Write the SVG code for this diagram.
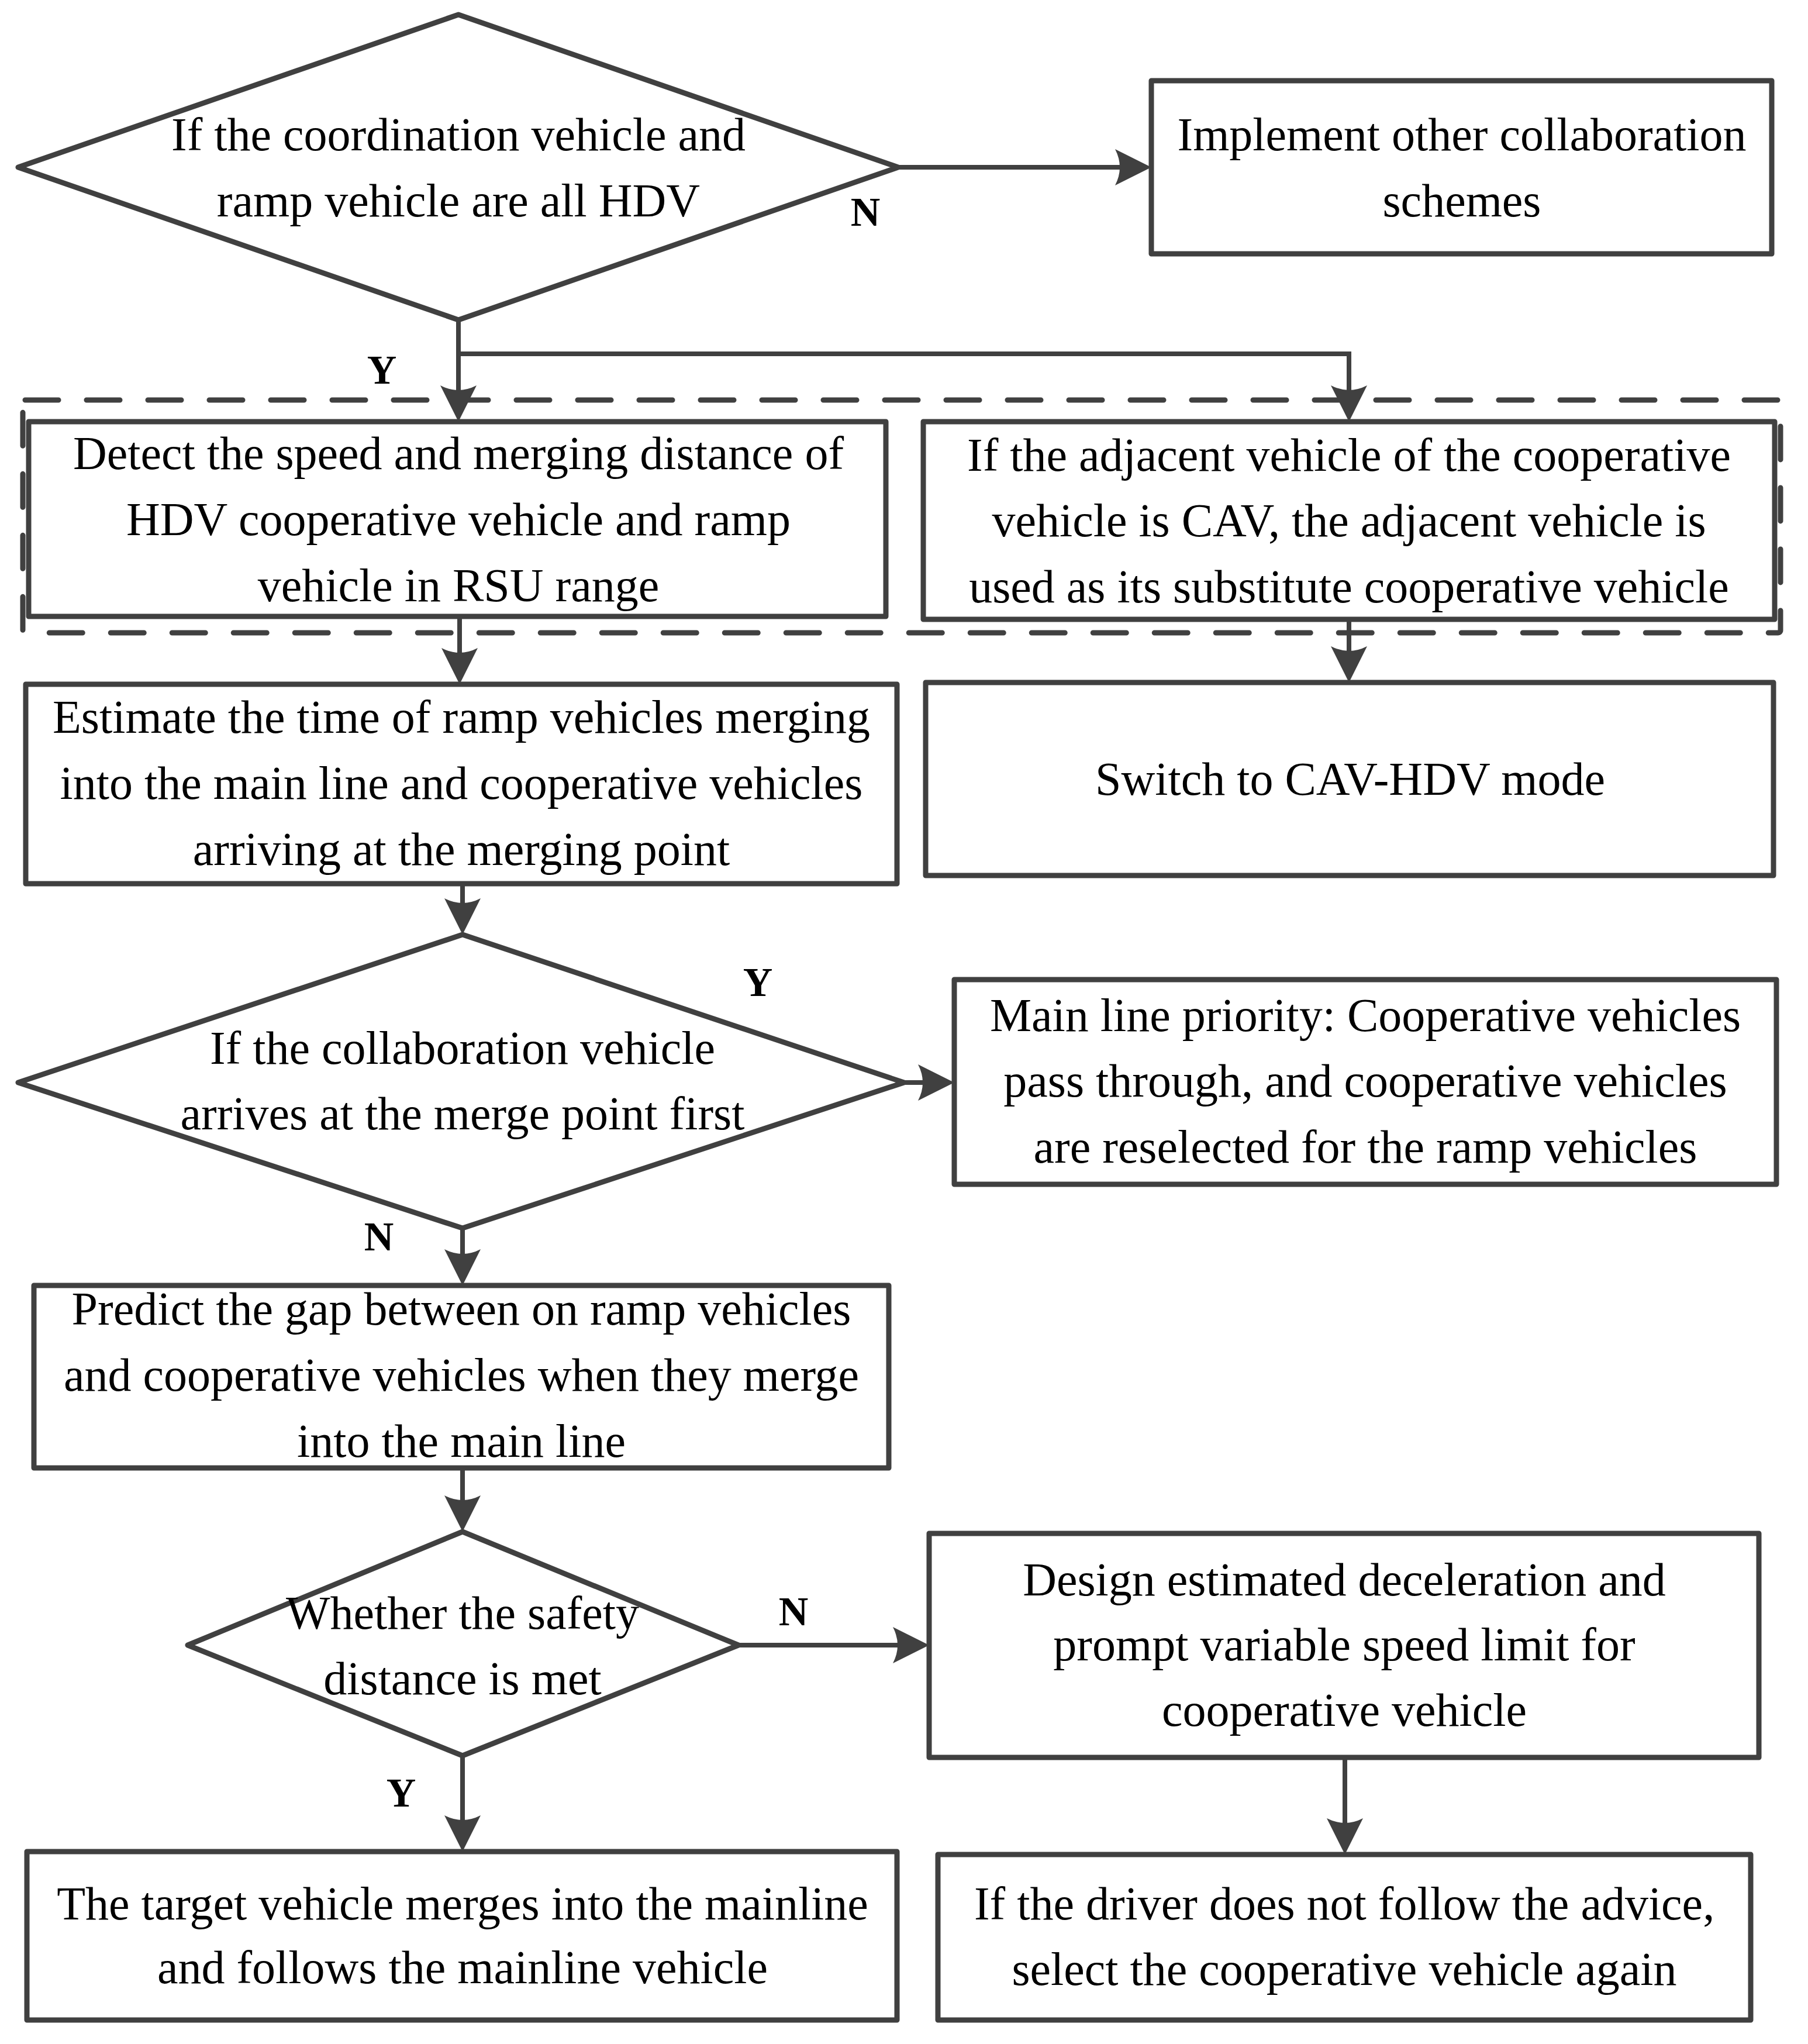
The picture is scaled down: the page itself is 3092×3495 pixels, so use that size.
<svg xmlns="http://www.w3.org/2000/svg" width="3092" height="3495" viewBox="0 0 3092 3495">
<style>
.box{fill:#fff;stroke:#404040;stroke-width:9;stroke-linejoin:round}
.dia{fill:#fff;stroke:#404040;stroke-width:9;stroke-linejoin:round}
.con{fill:none;stroke:#404040;stroke-width:8}
.dash{fill:none;stroke:#404040;stroke-width:9;stroke-dasharray:57 48;stroke-linecap:round}
.t{font-family:"Liberation Serif","Times New Roman",serif;font-size:80px;fill:#000;text-anchor:middle}
.lbl{font-family:"Liberation Serif","Times New Roman",serif;font-size:70px;font-weight:bold;fill:#000;text-anchor:middle}
</style>
<defs>
<marker id="ah" markerUnits="userSpaceOnUse" markerWidth="62" markerHeight="62" viewBox="0 0 62 62" refX="42" refY="31" orient="auto">
<path d="M0,0 L62,31 L0,62 Q16,31 0,0 Z" fill="#404040"/>
</marker>
</defs>
<rect width="3092" height="3495" fill="#fff"/>

<g id="group-dashed">
<rect class="dash" x="39" y="684" width="3006" height="398" rx="4"/>
</g>

<g id="n1">
<polygon class="dia" points="784,25 1536,286 784,547 31,286"/>
<text class="t" x="784" y="257">If the coordination vehicle and</text>
<text class="t" x="784" y="370">ramp vehicle are all HDV</text>
</g>

<g id="n2">
<rect class="box" x="1969" y="138" width="1061" height="296"/>
<text class="t" x="2500" y="257">Implement other collaboration</text>
<text class="t" x="2500" y="370">schemes</text>
</g>

<g id="n3">
<rect class="box" x="49" y="721" width="1466" height="333"/>
<text class="t" x="784" y="802">Detect the speed and merging distance of</text>
<text class="t" x="784" y="915">HDV cooperative vehicle and ramp</text>
<text class="t" x="784" y="1028">vehicle in RSU range</text>
</g>

<g id="n4">
<rect class="box" x="1579" y="721" width="1456" height="338"/>
<text class="t" x="2307" y="805">If the adjacent vehicle of the cooperative</text>
<text class="t" x="2307" y="917">vehicle is CAV, the adjacent vehicle is</text>
<text class="t" x="2307" y="1030">used as its substitute cooperative vehicle</text>
</g>

<g id="n5">
<rect class="box" x="44" y="1170" width="1490" height="341"/>
<text class="t" x="789" y="1253">Estimate the time of ramp vehicles merging</text>
<text class="t" x="789" y="1366">into the main line and cooperative vehicles</text>
<text class="t" x="789" y="1479">arriving at the merging point</text>
</g>

<g id="n6">
<rect class="box" x="1583" y="1167" width="1450" height="330"/>
<text class="t" x="2309" y="1359">Switch to CAV-HDV mode</text>
</g>

<g id="n7">
<polygon class="dia" points="791,1598 1546,1851 791,2100 31,1851"/>
<text class="t" x="791" y="1819">If the collaboration vehicle</text>
<text class="t" x="791" y="1931">arrives at the merge point first</text>
</g>

<g id="n8">
<rect class="box" x="1632" y="1675" width="1406" height="350"/>
<text class="t" x="2335" y="1763">Main line priority: Cooperative vehicles</text>
<text class="t" x="2335" y="1875">pass through, and cooperative vehicles</text>
<text class="t" x="2335" y="1988">are reselected for the ramp vehicles</text>
</g>

<g id="n9">
<rect class="box" x="58" y="2198" width="1462" height="312"/>
<text class="t" x="789" y="2265">Predict the gap between on ramp vehicles</text>
<text class="t" x="789" y="2378">and cooperative vehicles when they merge</text>
<text class="t" x="789" y="2491">into the main line</text>
</g>

<g id="n10">
<polygon class="dia" points="791,2619 1263,2813 791,3002 321,2813"/>
<text class="t" x="791" y="2785">Whether the safety</text>
<text class="t" x="791" y="2897">distance is met</text>
</g>

<g id="n11">
<rect class="box" x="1589" y="2622" width="1419" height="383"/>
<text class="t" x="2299" y="2728">Design estimated deceleration and</text>
<text class="t" x="2299" y="2839">prompt variable speed limit for</text>
<text class="t" x="2299" y="2951">cooperative vehicle</text>
</g>

<g id="n12">
<rect class="box" x="46" y="3166" width="1488" height="288"/>
<text class="t" x="791" y="3282">The target vehicle merges into the mainline</text>
<text class="t" x="791" y="3391">and follows the mainline vehicle</text>
</g>

<g id="n13">
<rect class="box" x="1604" y="3171" width="1390" height="283"/>
<text class="t" x="2299" y="3282">If the driver does not follow the advice,</text>
<text class="t" x="2299" y="3394">select the cooperative vehicle again</text>
</g>

<g id="connectors">
<path class="con" d="M1536,286 H1949" marker-end="url(#ah)"/>
<path class="con" d="M784,547 V701" marker-end="url(#ah)"/>
<path class="con" d="M784,605 H2307 V701" marker-end="url(#ah)"/>
<path class="con" d="M786,1054 V1150" marker-end="url(#ah)"/>
<path class="con" d="M2307,1059 V1147" marker-end="url(#ah)"/>
<path class="con" d="M791,1511 V1578" marker-end="url(#ah)"/>
<path class="con" d="M1546,1851 H1612" marker-end="url(#ah)"/>
<path class="con" d="M791,2100 V2178" marker-end="url(#ah)"/>
<path class="con" d="M791,2510 V2599" marker-end="url(#ah)"/>
<path class="con" d="M1263,2813 H1569" marker-end="url(#ah)"/>
<path class="con" d="M791,3002 V3146" marker-end="url(#ah)"/>
<path class="con" d="M2300,3005 V3151" marker-end="url(#ah)"/>
<text class="lbl" x="1480" y="386">N</text>
<text class="lbl" x="653" y="656">Y</text>
<text class="lbl" x="1296" y="1703">Y</text>
<text class="lbl" x="648" y="2138">N</text>
<text class="lbl" x="1357" y="2779">N</text>
<text class="lbl" x="686" y="3089">Y</text>
</g>
</svg>
